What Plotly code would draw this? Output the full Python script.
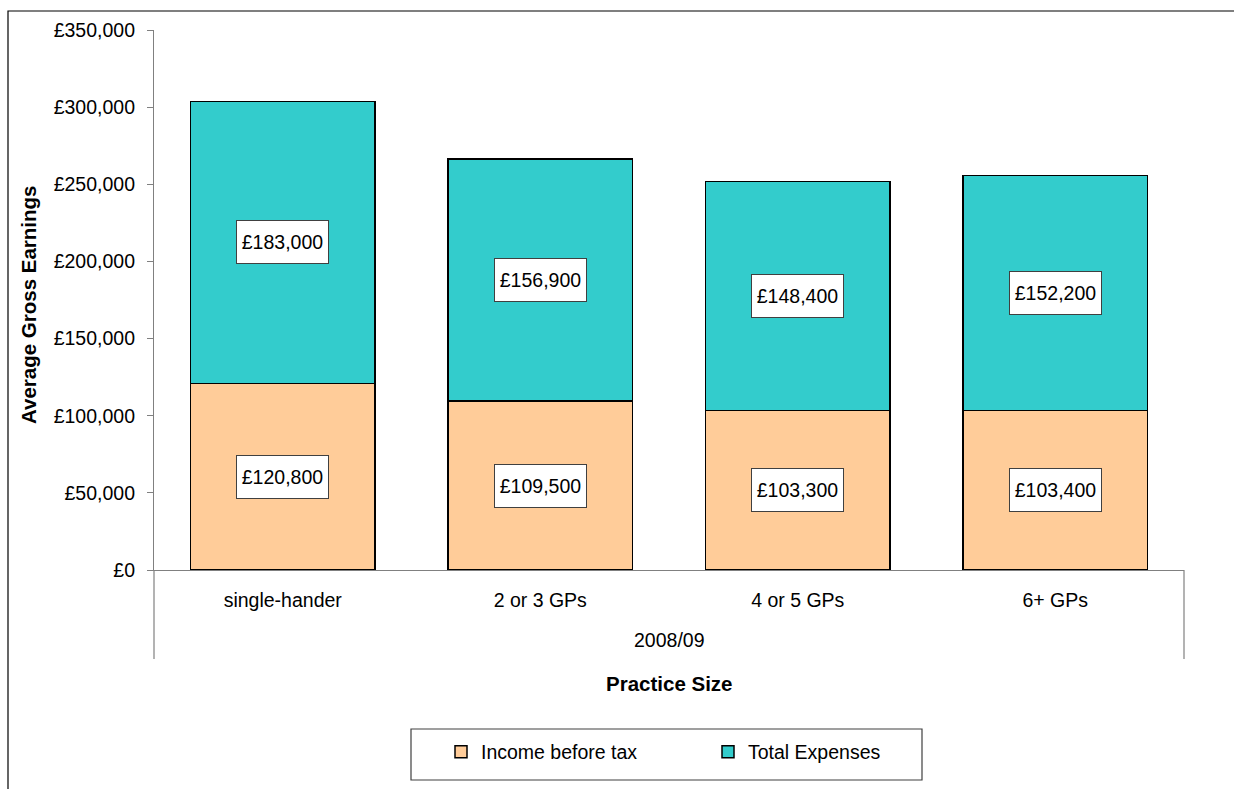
import plotly.graph_objects as go

# Practice-size categories and earnings components (GBP)
categories = ["single-hander", "2 or 3 GPs", "4 or 5 GPs", "6+ GPs"]
income_before_tax = [120800, 109500, 103300, 103400]
total_expenses = [183000, 156900, 148400, 152200]
period_label = "2008/09"
y_tick_values = [0, 50000, 100000, 150000, 200000, 250000, 300000, 350000]
y_tick_labels = ["£0", "£50,000", "£100,000", "£150,000", "£200,000",
                 "£250,000", "£300,000", "£350,000"]

FONT = "Arial, Liberation Sans, sans-serif"
FS = 19.5
FS_BOLD = 20.5
PEACH = "#FFCC99"
TEAL = "#33CCCC"
AXIS_GREY = "#808080"

# Pixel geometry of the plotting area (for converting frame decorations to paper units)
W, H = 1234, 789
L, R, T, B = 154, 50, 30, 219
PW, PH = W - L - R, H - T - B


def px_x(p):
    return (p - L) / PW


def px_y(p):
    return (H - B - p) / PH


fig = go.Figure()
fig.add_trace(go.Bar(
    name="Income before tax", x=categories, y=income_before_tax,
    marker=dict(color=PEACH, line=dict(color="black", width=1.5)),
    width=0.715, hoverinfo="skip",
))
fig.add_trace(go.Bar(
    name="Total Expenses", x=categories, y=total_expenses,
    marker=dict(color=TEAL, line=dict(color="black", width=1.5)),
    width=0.715, hoverinfo="skip",
))

# Boxed value labels centred in each segment
for cat, inc, exp in zip(categories, income_before_tax, total_expenses):
    for base, val in ((0, inc), (inc, exp)):
        fig.add_annotation(
            x=cat, y=base + val / 2, xref="x", yref="y",
            text=f"£{val:,}", showarrow=False,
            font=dict(family=FONT, size=FS, color="black"),
            bgcolor="white", bordercolor="#404040", borderwidth=1,
            borderpad=1, width=89, height=40,
        )

# Group label under the category labels
fig.add_annotation(
    x=0.5, y=px_y(640), xref="paper", yref="paper", text=period_label,
    showarrow=False, font=dict(family=FONT, size=FS, color="black"),
    xanchor="center", yanchor="middle",
)
# Axis titles
fig.add_annotation(
    x=0.5, y=px_y(683), xref="paper", yref="paper", text="<b>Practice Size</b>",
    showarrow=False, font=dict(family=FONT, size=FS_BOLD, color="black"),
    xanchor="center", yanchor="middle",
)
fig.add_annotation(
    x=px_x(28), y=px_y(305), xref="paper", yref="paper", text="<b>Average Gross Earnings</b>",
    showarrow=False, textangle=-90, font=dict(family=FONT, size=FS_BOLD, color="black"),
    xanchor="center", yanchor="middle",
)

shapes = [
    # outer chart frame
    dict(type="rect", xref="paper", yref="paper",
         x0=px_x(8), x1=px_x(1300), y0=px_y(850), y1=px_y(11),
         line=dict(color="black", width=1.2), fillcolor="rgba(0,0,0,0)", layer="below"),
    # category box side lines
    dict(type="line", xref="paper", yref="paper",
         x0=0, x1=0, y0=0, y1=px_y(659), line=dict(color=AXIS_GREY, width=1.2)),
    dict(type="line", xref="paper", yref="paper",
         x0=1, x1=1, y0=0, y1=px_y(659), line=dict(color=AXIS_GREY, width=1.2)),
    # legend box
    dict(type="rect", xref="paper", yref="paper",
         x0=px_x(411), x1=px_x(922), y0=px_y(780), y1=px_y(729),
         line=dict(color="#404040", width=1.2), fillcolor="white"),
]

fig.update_layout(
    width=W, height=H,
    margin=dict(l=L, r=R, t=T, b=B),
    barmode="stack",
    paper_bgcolor="white", plot_bgcolor="white",
    font=dict(family=FONT, size=FS, color="black"),
    showlegend=True,
    legend=dict(
        orientation="h", x=px_x(441), y=px_y(752), xanchor="left", yanchor="middle",
        font=dict(family=FONT, size=FS, color="black"),
        bgcolor="rgba(0,0,0,0)", borderwidth=0,
        entrywidth=222, entrywidthmode="pixels", traceorder="normal",
    ),
    xaxis=dict(
        type="category", range=[-0.5, 3.5], showgrid=False,
        showline=True, linecolor=AXIS_GREY, linewidth=1.2,
        ticks="", ticklabelstandoff=12,
        tickfont=dict(family=FONT, size=FS, color="black"),
        zeroline=False,
    ),
    yaxis=dict(
        range=[0, 350000], tickvals=y_tick_values, ticktext=y_tick_labels,
        showgrid=False, zeroline=False,
        showline=True, linecolor=AXIS_GREY, linewidth=1.2,
        ticks="outside", ticklen=6, tickcolor=AXIS_GREY, tickwidth=1.2,
        tickfont=dict(family=FONT, size=FS, color="black"),
        ticklabelstandoff=8,
    ),
    shapes=shapes,
)

fig.write_html("out.html")
